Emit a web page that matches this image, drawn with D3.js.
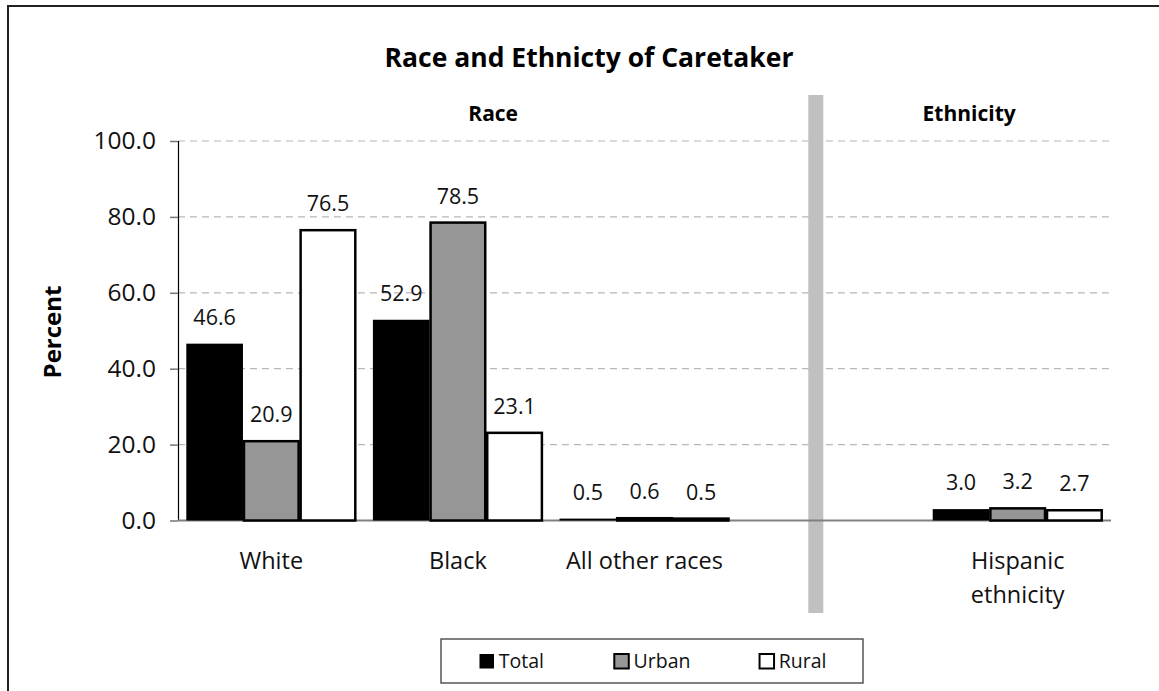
<!DOCTYPE html>
<html>
<head>
<meta charset="utf-8">
<script src="https://cdn.jsdelivr.net/npm/d3@7"></script>
<style>
  html, body { margin: 0; padding: 0; background: #fff; }
  svg { display: block; font-family: "Open Sans", Lato, sans-serif; }
</style>
</head>
<body>
<svg id="chart" width="1159" height="691"></svg>
<script>
// ---- data ----
const categories = ["White", "Black", "All other races", "Hispanic ethnicity"];
const seriesNames = ["Total", "Urban", "Rural"];
const totalValues = [46.6, 52.9, 0.5, 3.0];
const urbanValues = [20.9, 78.5, 0.6, 3.2];
const ruralValues = [76.5, 23.1, 0.5, 2.7];
const yTicks = [0, 20, 40, 60, 80, 100];
const titleText = "Race and Ethnicty of Caretaker";
const sectionLabels = ["Race", "Ethnicity"];
const yAxisTitle = "Percent";

const seriesValues = [totalValues, urbanValues, ruralValues];
const fills = ["#000000", "#969696", "#ffffff"];

const svg = d3.select("#chart");
const W = 1159, H = 691;
const plot = { left: 178, right: 1111, top: 141, bottom: 520.5 };

// frame
svg.append("rect").attr("x", 8).attr("y", 6).attr("width", W).attr("height", H)
  .attr("fill", "none").attr("stroke", "#222").attr("stroke-width", 2);

// scales: slot list with a gap slot between race and ethnicity
const SEP = "__sep__";
const slots = [categories[0], categories[1], categories[2], SEP, categories[3]];
const x0 = d3.scaleBand().domain(slots).range([plot.left, plot.right])
  .paddingInner(0.089).paddingOuter(0.0445);
const x1 = d3.scaleBand().domain(seriesNames).range([0, x0.bandwidth()]).padding(0);
const y = d3.scaleLinear().domain([0, 100]).range([plot.bottom, plot.top]);

// gridlines
svg.append("g").selectAll("line").data(yTicks.filter(t => t > 0)).join("line")
  .attr("x1", plot.left).attr("x2", plot.right)
  .attr("y1", d => y(d)).attr("y2", d => y(d))
  .attr("stroke", "#b8b8b8").attr("stroke-width", 1.2)
  .attr("stroke-dasharray", "7,5");

// separator bar
const sepCenter = x0(SEP) + x0.bandwidth() * 0.41;
const sepLeft = sepCenter - 7.5, sepRight = sepCenter + 7.5;
svg.append("rect").attr("x", sepLeft).attr("y", 95)
  .attr("width", 15).attr("height", 613 - 95).attr("fill", "#c0c0c0");

// y axis
const yAxis = d3.axisLeft(y).tickValues(yTicks).tickFormat(d3.format(".1f")).tickSize(8).tickPadding(14);
const gy = svg.append("g").attr("transform", `translate(${plot.left},0)`).call(yAxis);
gy.select(".domain").attr("stroke", "#000").attr("stroke-width", 1.2).attr("d", `M0.5,${y(100)}V${y(0)}`);
gy.selectAll(".tick line").attr("stroke", "#777").attr("stroke-width", 1.5);
gy.selectAll(".tick text").attr("fill", "#111").style("font-size", "24.5px")
  .style("font-family", "'Open Sans', sans-serif");

// baseline
svg.append("line").attr("x1", plot.left).attr("x2", plot.right)
  .attr("y1", y(0)).attr("y2", y(0)).attr("stroke", "#808080").attr("stroke-width", 2);

// bars
const barData = [];
categories.forEach((c, i) => {
  seriesNames.forEach((s, j) => barData.push({ cat: c, series: s, si: j, value: seriesValues[j][i] }));
});
const bars = svg.append("g");
bars.selectAll("rect").data(barData).join("rect")
  .attr("x", d => x0(d.cat) + x1(d.series) + (d.si === 0 ? 0 : 1))
  .attr("y", d => y(d.value))
  .attr("width", d => x1.bandwidth() - (d.si === 0 ? 0 : 2))
  .attr("height", d => Math.max(0, y(0) - y(d.value)))
  .attr("fill", d => fills[d.si])
  .attr("stroke", "#000").attr("stroke-width", d => d.si === 0 ? 0 : 2.5);

// value labels
svg.append("g").selectAll("text").data(barData).join("text")
  .attr("x", d => x0(d.cat) + x1(d.series) + x1.bandwidth() / 2)
  .attr("y", d => y(d.value) - 19)
  .attr("text-anchor", "middle")
  .style("font-size", "21.5px").attr("fill", "#111")
  .text(d => d.value.toFixed(1));

// category labels (wrap Hispanic ethnicity)
const catG = svg.append("g");
categories.forEach(c => {
  const lines = c === "Hispanic ethnicity" ? ["Hispanic", "ethnicity"] : [c];
  const t = catG.append("text").attr("text-anchor", "middle")
    .attr("x", x0(c) + x0.bandwidth() / 2).attr("y", 569)
    .style("font-size", "23.5px").attr("fill", "#111");
  lines.forEach((ln, k) => t.append("tspan").attr("x", x0(c) + x0.bandwidth() / 2)
    .attr("dy", k === 0 ? 0 : 34).text(ln));
});

// title
svg.append("text").attr("x", 589).attr("y", 67).attr("text-anchor", "middle")
  .style("font-size", "26.5px").style("font-weight", "bold").attr("fill", "#000").text(titleText);

// section labels
svg.append("text").attr("x", (plot.left + sepLeft) / 2).attr("y", 121)
  .attr("text-anchor", "middle").style("font-size", "21px").style("font-weight", "bold").text(sectionLabels[0]);
svg.append("text").attr("x", (sepRight + plot.right) / 2 + 2).attr("y", 121)
  .attr("text-anchor", "middle").style("font-size", "21px").style("font-weight", "bold").text(sectionLabels[1]);

// y axis title
svg.append("text").attr("transform", "translate(61,332) rotate(-90)")
  .attr("text-anchor", "middle").style("font-size", "24px").style("font-weight", "bold").text(yAxisTitle);

// legend
const lg = { x: 441, y: 639, w: 422, h: 44 };
svg.append("rect").attr("x", lg.x).attr("y", lg.y).attr("width", lg.w).attr("height", lg.h)
  .attr("fill", "#fff").attr("stroke", "#555").attr("stroke-width", 1.5);
const lx = d3.scaleBand().domain(seriesNames).range([lg.x, lg.x + lg.w]);
seriesNames.forEach((s, j) => {
  const g = svg.append("g");
  const txt = g.append("text").attr("x", 20).attr("y", 0).style("font-size", "19.5px").attr("fill", "#111").text(s);
  const tw = txt.node().getComputedTextLength();
  const iw = 20 + tw;
  const sx = lx(s) + lx.bandwidth() / 2 - iw / 2;
  g.attr("transform", `translate(${sx},${lg.y + 29})`);
  g.insert("rect", "text").attr("x", 0.75).attr("y", -14)
    .attr("width", 14.5).attr("height", 14.5)
    .attr("fill", fills[j]).attr("stroke", "#000").attr("stroke-width", j === 0 ? 0 : 2);
});
</script>
</body>
</html>
